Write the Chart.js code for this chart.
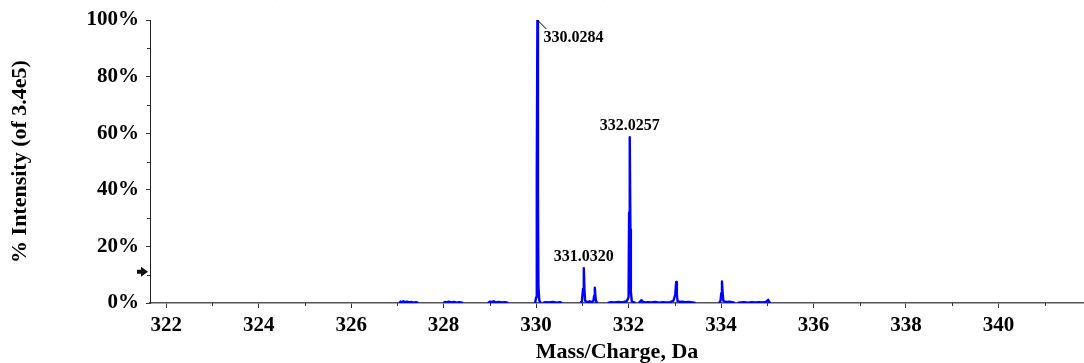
<!DOCTYPE html>
<html>
<head>
<meta charset="utf-8">
<script src="https://cdn.jsdelivr.net/npm/chart.js@4.4.1/dist/chart.umd.min.js"></script>
<style>
    html, body { margin: 0; padding: 0; background: #ffffff; }
    #caixa { position: relative; width: 1084px; height: 363px; }
</style>
</head>
<body>
<div id="caixa"><canvas id="graficoEspectro"></canvas></div>
<script>
// ============================================================================
// ESPECTRO DE MASSA (perfil)
// ============================================================================

// Título do espectro (fica cortado no topo da imagem)
const tituloEspectro = 'Spectrum from Sample_01.wiff (sample 1) - Sample_01, Experiment 1, +TOF MS (100 - 1000) from 5.123 min';

// Pontos do perfil: m/z e intensidade (%). null = intervalo sem sinal
const massas = [
    327.04, 327.07, 327.10, 327.13, 327.17, 327.21, 327.25, 327.30, 327.35, 327.40, 327.45, 327.47,
    328.00, 328.03, 328.07, 328.11, 328.16, 328.22, 328.28, 328.34, 328.42, 328.44,
    328.96, 329.00, 329.04, 329.08, 329.13, 329.19, 329.26, 329.33, 329.40, 329.42,
    329.98, 330.00, 330.015, 330.0284, 330.04, 330.05, 330.07, 330.10, 330.12,
    330.15, 330.20, 330.28, 330.36, 330.44, 330.52, 330.56, 330.58,
    330.96, 330.99, 331.015, 331.032, 331.045, 331.06, 331.09, 331.12, 331.16, 331.20, 331.24, 331.255, 331.27, 331.285, 331.30, 331.33, 331.35,
    331.55, 331.62, 331.70, 331.78, 331.86, 331.92, 331.96, 332.00, 332.012, 332.0257, 332.04, 332.05, 332.07, 332.10, 332.15, 332.17,
    332.22, 332.25, 332.28, 332.31, 332.36, 332.42, 332.50, 332.58, 332.66, 332.74, 332.82, 332.90, 332.97, 333.01, 333.03, 333.045, 333.06, 333.10, 333.16, 333.22, 333.30, 333.38, 333.45, 333.47,
    333.96, 333.99, 334.005, 334.02, 334.035, 334.05, 334.08, 334.13, 334.18, 334.24, 334.30, 334.32,
    334.36, 334.42, 334.50, 334.58, 334.66, 334.74, 334.82, 334.90, 334.97, 335.00, 335.02, 335.04, 335.07
];
const intensidades = [
    0, 0.5, 0.2, 0.6, 0.3, 0.5, 0.2, 0.4, 0.1, 0.3, 0, null,
    0, 0.4, 0.2, 0.5, 0.2, 0.4, 0.1, 0.3, 0, null,
    0, 0.5, 0.3, 0.6, 0.2, 0.4, 0.2, 0.3, 0, null,
    0, 2, 45, 100, 40, 6, 0.8, 0, null,
    0, 0.3, 0.2, 0.4, 0.1, 0.3, 0, null,
    0, 0.6, 5, 12.3, 5, 0.8, 0.5, 0.3, 0.6, 0.3, 0.8, 2.5, 5.4, 2, 0.4, 0, null,
    0, 0.3, 0.2, 0.4, 0.2, 0.5, 0.6, 2, 32, 58.6, 26, 4, 0.6, 0.3, 0, null,
    0, 0.5, 1.0, 0.4, 0.2, 0.3, 0.2, 0.4, 0.1, 0.3, 0.2, 0.3, 0.8, 3, 7.4, 3, 0.7, 0.4, 0.5, 0.3, 0.4, 0.2, 0, null,
    0, 0.8, 3.5, 7.6, 3.5, 0.8, 0.5, 0.4, 0.5, 0.3, 0, null,
    0, 0.2, 0.3, 0.1, 0.3, 0.2, 0.3, 0.2, 0.4, 0.8, 1.1, 0.4, 0
];

// Picos rotulados
const rotulosPicos = ['330.0284', '331.0320', '332.0257'];
const massasPicos = [330.0284, 331.0320, 332.0257];
const alturasPicos = [100, 12.3, 58.6];

// Eixos
const limitesX = [321.65, 341.85];
const limitesY = [0, 100];
const limiarIntensidade = 11; // seta do limiar no eixo Y

const fonteSerif = 'Liberation Serif';

document.addEventListener('DOMContentLoaded', function() {
    const canvas = document.getElementById('graficoEspectro');
    if (!canvas) return;

    const pontos = massas.map((m, i) => ({ x: m, y: intensidades[i] }));

    // 1. Plugin: título cortado, seta do limiar, marcas menores e rótulos dos picos
    const extrasEspectro = {
        id: 'extrasEspectro',
        afterDraw(chart) {
            const ctx = chart.ctx;
            const sx = chart.scales.x;
            const sy = chart.scales.y;
            const area = chart.chartArea;
            ctx.save();

            // título (só aparecem as pernas das letras)
            ctx.fillStyle = '#000';
            ctx.font = 'bold 15px "' + fonteSerif + '"';
            ctx.textAlign = 'left';
            ctx.textBaseline = 'alphabetic';
            ctx.fillText(tituloEspectro, 10, -3);

            // marcas menores (1 Da e 10%)
            ctx.strokeStyle = '#333';
            ctx.lineWidth = 1;
            ctx.beginPath();
            for (let v = Math.ceil(limitesX[0]); v <= limitesX[1]; v++) {
                if (v % 2 === 0) continue;
                const px = Math.round(sx.getPixelForValue(v)) + 0.5;
                ctx.moveTo(px, area.bottom);
                ctx.lineTo(px, area.bottom + 3);
            }
            for (let v = 10; v < 100; v += 20) {
                const py = Math.round(sy.getPixelForValue(v)) + 0.5;
                ctx.moveTo(area.left, py);
                ctx.lineTo(area.left - 3, py);
            }
            ctx.stroke();

            // seta do limiar
            const yl = sy.getPixelForValue(limiarIntensidade);
            const xl = area.left - 2;
            ctx.fillStyle = '#111';
            ctx.beginPath();
            ctx.moveTo(xl, yl);
            ctx.lineTo(xl - 7, yl - 5);
            ctx.lineTo(xl - 7, yl - 2);
            ctx.lineTo(xl - 11, yl - 2);
            ctx.lineTo(xl - 11, yl + 2);
            ctx.lineTo(xl - 7, yl + 2);
            ctx.lineTo(xl - 7, yl + 5);
            ctx.closePath();
            ctx.fill();

            // rótulos dos picos
            ctx.font = 'bold 16px "' + fonteSerif + '"';
            ctx.fillStyle = '#000';
            ctx.textBaseline = 'middle';
            rotulosPicos.forEach((txt, i) => {
                const px = sx.getPixelForValue(massasPicos[i]);
                const py = sy.getPixelForValue(alturasPicos[i]);
                if (alturasPicos[i] >= 100) {
                    // pico base: linha de chamada e texto à direita
                    ctx.beginPath();
                    ctx.moveTo(px, py);
                    ctx.lineTo(px + 9, py + 9);
                    ctx.strokeStyle = '#000';
                    ctx.stroke();
                    ctx.textAlign = 'left';
                    ctx.fillText(txt, px + 6, py + 18);
                } else {
                    ctx.textAlign = 'center';
                    ctx.fillText(txt, px, py - 11);
                }
            });
            ctx.restore();
        }
    };

    // 2. Gráfico de linha em escala linear
    new Chart(canvas.getContext('2d'), {
        type: 'line',
        data: {
            datasets: [{
                label: 'Intensidade',
                data: pontos,
                borderColor: '#0000ff',
                borderWidth: 2.4,
                borderJoinStyle: 'round',
                pointRadius: 0,
                tension: 0,
                spanGaps: false,
                fill: false
            }]
        },
        options: {
            responsive: true,
            maintainAspectRatio: false,
            animation: false,
            layout: { padding: { top: 20, right: 0, bottom: 0, left: 0 } },
            plugins: {
                legend: { display: false },
                tooltip: { enabled: false }
            },
            scales: {
                x: {
                    type: 'linear',
                    min: limitesX[0],
                    max: limitesX[1],
                    grid: { drawOnChartArea: false, tickLength: 5, tickColor: '#333' },
                    border: { color: '#555', width: 1.5 },
                    ticks: {
                        stepSize: 2,
                        includeBounds: false,
                        autoSkip: false,
                        maxRotation: 0,
                        color: '#000',
                        padding: 5,
                        font: { family: fonteSerif, weight: 'bold', size: 21 }
                    },
                    title: {
                        display: true,
                        text: 'Mass/Charge, Da',
                        color: '#000',
                        font: { family: fonteSerif, weight: 'bold', size: 22, lineHeight: 1 },
                        padding: { top: 0, bottom: 0 }
                    },
                    afterFit: s => { s.height = 60; }
                },
                y: {
                    min: limitesY[0],
                    max: limitesY[1],
                    grid: { drawOnChartArea: false, tickLength: 4, tickColor: '#333' },
                    border: { color: '#222', width: 1 },
                    ticks: {
                        stepSize: 20,
                        color: '#000',
                        padding: 7,
                        font: { family: fonteSerif, weight: 'bold', size: 21 },
                        callback: v => v + '%'
                    },
                    title: {
                        display: true,
                        text: '% Intensity (of 3.4e5)',
                        color: '#000',
                        font: { family: fonteSerif, weight: 'bold', size: 22 },
                        padding: { top: 7, bottom: 0 }
                    },
                    afterFit: s => { s.width = 150; }
                }
            }
        },
        plugins: [extrasEspectro]
    });
});
</script>
</body>
</html>
